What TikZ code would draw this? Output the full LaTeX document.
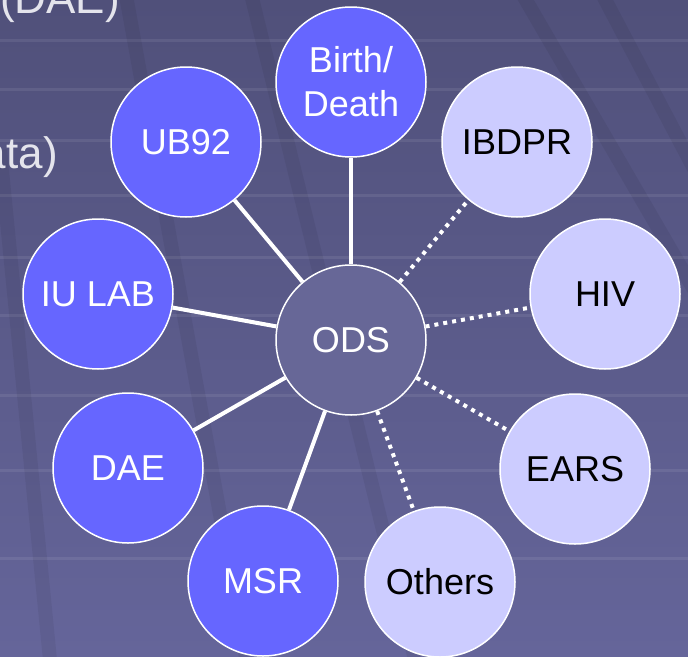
\documentclass[tikz,border=0pt]{standalone}
\usepackage{fontspec}
\setmainfont{Liberation Sans}
\usetikzlibrary{calc}
\definecolor{bgtop}{HTML}{50507A}
\definecolor{bgbot}{HTML}{65659A}
\definecolor{darkc}{HTML}{6666FF}
\definecolor{lightc}{HTML}{CCCCFF}
\definecolor{odsc}{HTML}{676797}
\definecolor{fragtext}{HTML}{E4E4EC}
\tikzset{
  circ/.style={circle, draw=white, line width=1.5pt, minimum size=150pt, inner sep=0pt, align=center, font=\fontsize{36}{44}\selectfont},
  darknode/.style={circ, fill=darkc, text=white},
  lightnode/.style={circ, fill=lightc, text=black},
  hubnode/.style={circ, fill=odsc, text=white},
  solidlink/.style={draw=white, line width=4pt},
  dotlink/.style={draw=white, line width=4pt, dash pattern=on 4pt off 5pt},
  fragment/.style={text=fragtext, font=\fontsize{44}{50}\selectfont, inner sep=0pt},
  stripe/.style={draw=white, opacity=0.08, line width=3pt},
  band/.style={draw=black, opacity=0.06, line width=14pt}
}
\begin{document}
\begin{tikzpicture}[x=1pt,y=-1pt]
\useasboundingbox (0,0) rectangle (688,656);
\begin{scope}
\clip (0,0) rectangle (688,656);
\shade[top color=bgtop, bottom color=bgbot] (0,0) rectangle (688,656);
% faint slide texture
\foreach \yy in {40,89,140,195,257,315,395,470,558}
  \draw[stripe] (0,\yy) -- (688,\yy);
\draw[band] (125,-10) -- (250,680);
\draw[band] (0,150) -- (50,660);
\draw[band] (520,-10) -- (700,300);
\draw[band] (250,-10) -- (420,680);
\draw[band] (600,-10) -- (700,180);
% cut-off text fragments
\node[fragment, anchor=base west] (frag1) at (0,13) {(DAE)};
\node[fragment, anchor=base east] (frag2) at (58,168) {data)};
\end{scope}

\node[hubnode] (ods) at (351,340) {ODS};
\node[darknode] (birth) at (351,82) {Birth/\\Death};
\node[darknode] (ub) at (186,142) {UB92};
\node[darknode] (iu) at (98,294) {IU LAB};
\node[darknode] (dae) at (128,468) {DAE};
\node[darknode] (msr) at (263,581) {MSR};
\node[lightnode] (ibd) at (517,142) {IBDPR};
\node[lightnode] (hiv) at (605,294) {HIV};
\node[lightnode] (ears) at (575,469) {EARS};
\node[lightnode] (oth) at (440,582) {Others};

\draw[solidlink] (ods) -- (birth);
\draw[solidlink] (ods) -- (ub);
\draw[solidlink] (ods) -- (iu);
\draw[solidlink] (ods) -- (dae);
\draw[solidlink] (ods) -- (msr);
\draw[dotlink] (ods) -- (ibd);
\draw[dotlink] (ods) -- (hiv);
\draw[dotlink] (ods) -- (ears);
\draw[dotlink] (ods) -- (oth);
\end{tikzpicture}
\end{document}
